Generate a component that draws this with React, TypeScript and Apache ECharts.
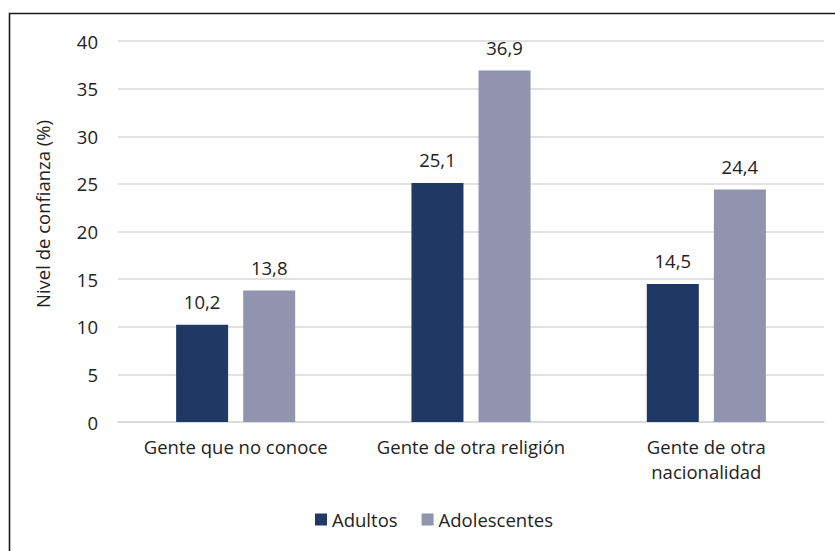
import React, { useEffect, useRef } from "react";
import * as echarts from "echarts";

const categories = ["Gente que no conoce", "Gente de otra religión", "Gente de otra\nnacionalidad"];
const adultos = [10.2, 25.1, 14.5];
const adolescentes = [13.8, 36.9, 24.4];
const seriesNames = ["Adultos", "Adolescentes"];
const yName = "Nivel de confianza (%)";

const FONT = "'Open Sans', 'Noto Sans', sans-serif";
const FS = 18.5;

export default function App() {
  const ref = useRef<HTMLDivElement>(null);
  useEffect(() => {
    if (!ref.current) return;
    const chart = echarts.init(ref.current, null, { renderer: "svg" });
    const label = {
      show: true,
      position: "top",
      distance: 14,
      color: "#222",
      fontSize: FS,
      fontFamily: FONT,
      formatter: (p: any) => String(p.value).replace(".", ","),
    };
    chart.setOption({
      animation: false,
      textStyle: { fontFamily: FONT },
      graphic: [
        {
          type: "rect",
          shape: { x: 9.5, y: 13.5, width: 900, height: 700 },
          style: { fill: "none", stroke: "#1a1a1a", lineWidth: 1.6 },
          silent: true,
        },
        {
          type: "text",
          x: 42,
          y: 214,
          rotation: Math.PI / 2,
          style: {
            text: yName,
            fontSize: FS,
            fontFamily: FONT,
            fill: "#222",
            textAlign: "center",
            textVerticalAlign: "middle",
          },
          silent: true,
        },
      ],
      legend: {
        data: seriesNames,
        bottom: 17,
        left: 310,
        itemWidth: 12,
        itemHeight: 12,
        itemGap: 24,
        icon: "rect",
        textStyle: { fontSize: FS, color: "#222", fontFamily: FONT },
      },
      grid: { left: 118, right: 11, top: 41, bottom: 129 },
      xAxis: {
        type: "category",
        data: categories,
        axisTick: { show: false },
        axisLine: { lineStyle: { color: "#d9d9d9", width: 1.5 } },
        axisLabel: { interval: 0, color: "#222", fontSize: FS, margin: 12, lineHeight: 25, fontFamily: FONT },
      },
      yAxis: {
        type: "value",
        min: 0,
        max: 40,
        interval: 5,
        axisLine: { show: false },
        axisTick: { show: false },
        axisLabel: { color: "#222", fontSize: FS, margin: 20, fontFamily: FONT },
        splitLine: { lineStyle: { color: "#d9d9d9", width: 1.5 } },
      },
      series: [
        {
          name: seriesNames[0],
          type: "bar",
          data: adultos,
          barWidth: 52,
          barGap: "29%",
          itemStyle: { color: "#203864" },
          label,
        },
        {
          name: seriesNames[1],
          type: "bar",
          data: adolescentes,
          barWidth: 52,
          itemStyle: { color: "#9193AF" },
          label,
        },
      ],
    });
    return () => chart.dispose();
  }, []);
  return (
    <div
      ref={ref}
      style={{ position: "fixed", left: 0, top: 0, width: 835, height: 551, background: "#fff" }}
    />
  );
}
